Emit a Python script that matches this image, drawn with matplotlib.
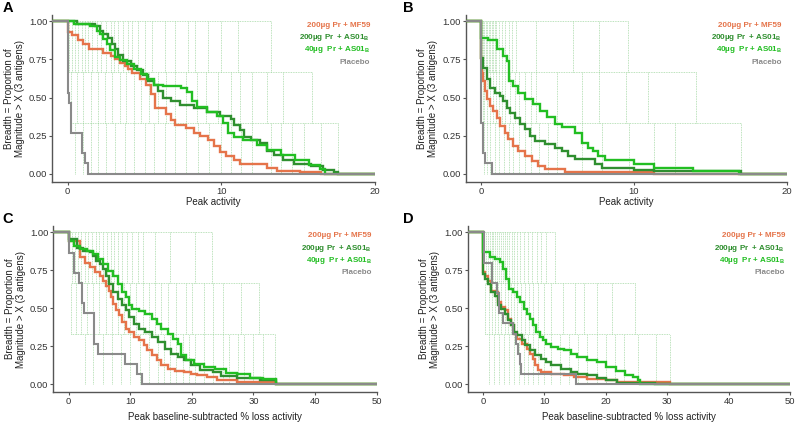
import matplotlib
matplotlib.use("Agg")
import matplotlib.pyplot as plt

# Шрифт похожий на Arial
plt.rcParams['font.family'] = ['Liberation Sans', 'DejaVu Sans']
plt.rcParams['mathtext.fontset'] = 'custom'
plt.rcParams['mathtext.rm'] = 'Liberation Sans'
plt.rcParams['mathtext.bf'] = 'Liberation Sans:bold'

ORANGE = '#E5744A'
DKGREEN = '#2F8F2F'
GREEN = '#22BE22'
GREY = '#8A8A8A'
FAINT = '#8fcf8f'

GROUPS = ['200µg Pr + MF59', '200µg Pr  + AS01$_\\mathbf{B}$',
          '40µg  Pr + AS01$_\\mathbf{B}$', 'Placebo']
COLORS = [ORANGE, DKGREEN, GREEN, GREY]

# ---------- Panel A: step points (x where the curve drops, y after drop)
A_MF59_X = [0.0, 0.3, 0.7, 1.0, 1.4, 2.3, 2.8, 3.1, 3.4, 3.7, 3.9, 4.2, 4.7, 5.1, 5.4, 5.7,
            6.4, 6.7, 7.0, 7.7, 8.2, 8.6, 9.1, 9.5, 9.9, 10.3, 10.8, 11.2, 13.0, 13.6, 15.1, 16.5]
A_MF59_Y = [0.93, 0.91, 0.88, 0.85, 0.82, 0.79, 0.77, 0.75, 0.73, 0.71, 0.69, 0.66, 0.62, 0.58, 0.52, 0.43,
            0.39, 0.35, 0.32, 0.30, 0.27, 0.245, 0.22, 0.18, 0.14, 0.115, 0.09, 0.06, 0.04, 0.02, 0.01, 0.0]
A_AS200_X = [0.6, 1.8, 2.1, 2.3, 2.65, 2.9, 3.1, 3.3, 3.6, 4.1, 4.5, 4.9, 5.25, 5.6, 5.9, 6.2, 6.7,
             7.3, 8.2, 9.05, 9.9, 10.6, 10.8, 11.2, 11.5, 11.9, 12.5, 12.95, 13.4, 14.0, 14.7, 15.8,
             16.6, 17.3, 17.6]
A_AS200_Y = [0.985, 0.97, 0.94, 0.92, 0.89, 0.85, 0.82, 0.78, 0.74, 0.71, 0.68, 0.645, 0.61, 0.58, 0.54,
             0.50, 0.48, 0.45, 0.43, 0.405, 0.38, 0.36, 0.32, 0.285, 0.24, 0.22, 0.20, 0.15, 0.12, 0.09,
             0.065, 0.05, 0.025, 0.01, 0.0]
A_AS40_X = [0.4, 1.45, 1.9, 2.1, 2.3, 2.55, 2.75, 3.1, 3.4, 3.85, 4.3, 4.8, 5.15, 5.6, 6.2, 7.4,
            7.75, 8.1, 8.4, 9.05, 9.7, 10.1, 10.45, 10.8, 11.4, 12.3, 13.0, 13.9, 14.8, 15.7, 16.4, 16.75]
A_AS40_Y = [0.985, 0.97, 0.94, 0.92, 0.886, 0.85, 0.81, 0.766, 0.744, 0.72, 0.69, 0.656, 0.62, 0.58,
            0.573, 0.565, 0.536, 0.48, 0.44, 0.405, 0.38, 0.33, 0.27, 0.24, 0.22, 0.186, 0.153, 0.12,
            0.088, 0.055, 0.033, 0.0]
A_PLA_X = [0.0, 0.1, 0.2, 0.9, 1.1, 1.3]
A_PLA_Y = [0.533, 0.467, 0.267, 0.133, 0.067, 0.0]

# ---------- Panel B
B_MF59_X = [0.0, 0.04, 0.15, 0.26, 0.37, 0.59, 0.81, 1.03, 1.24, 1.57, 1.79, 2.11, 2.44, 2.88,
            3.32, 3.75, 4.19, 5.5, 11.3]
B_MF59_Y = [0.76, 0.663, 0.61, 0.54, 0.49, 0.444, 0.41, 0.368, 0.313, 0.27, 0.225, 0.181, 0.148,
            0.115, 0.083, 0.05, 0.028, 0.008, 0.0]
B_AS200_X = [0.0, 0.15, 0.37, 0.59, 0.92, 1.24, 1.46, 1.68, 1.9, 2.23, 2.55, 2.88, 3.21, 3.53,
             4.19, 4.84, 5.28, 5.71, 6.15, 7.46, 7.9, 10.0, 11.3, 17.0]
B_AS200_Y = [0.76, 0.696, 0.62, 0.565, 0.53, 0.51, 0.477, 0.433, 0.40, 0.368, 0.324, 0.29, 0.247,
             0.214, 0.192, 0.17, 0.148, 0.115, 0.094, 0.061, 0.039, 0.024, 0.014, 0.0]
B_AS40_X = [0.0, 0.48, 1.03, 1.46, 1.68, 1.85, 2.11, 2.44, 2.88, 3.42, 3.86, 4.3, 4.84, 5.28,
            6.15, 6.59, 7.02, 7.35, 7.68, 8.12, 10.0, 11.3, 13.9, 16.9]
B_AS40_Y = [0.89, 0.875, 0.816, 0.77, 0.74, 0.61, 0.575, 0.53, 0.49, 0.455, 0.41, 0.37, 0.324,
            0.306, 0.27, 0.20, 0.17, 0.148, 0.115, 0.09, 0.066, 0.035, 0.015, 0.0]
B_PLA_X = [0.0, 0.15, 0.25, 0.7]
B_PLA_Y = [0.333, 0.133, 0.067, 0.0]

# ---------- Panel C
C_MF59_X = [0.0, 1.9, 2.7, 3.5, 4.3, 5.05, 5.6, 6.1, 6.6, 6.9, 7.2, 7.7, 8.2, 8.7, 9.3, 9.8, 10.6,
            11.4, 12.2, 12.7, 13.5, 14.3, 15.05, 16.1, 17.2, 18.7, 19.8, 20.8, 22.4, 24.0, 27.4, 33.7]
C_MF59_Y = [0.945, 0.836, 0.80, 0.77, 0.737, 0.716, 0.683, 0.65, 0.617, 0.573, 0.53, 0.486, 0.453,
            0.41, 0.365, 0.344, 0.31, 0.289, 0.256, 0.223, 0.19, 0.158, 0.125, 0.103, 0.0875, 0.081,
            0.07, 0.059, 0.048, 0.026, 0.012, 0.0]
C_AS200_X = [0.0, 1.37, 2.4, 3.5, 4.0, 4.5, 5.05, 5.6, 6.1, 6.6, 7.2, 7.95, 8.7, 9.3, 9.8, 10.6,
             11.4, 12.4, 13.5, 14.5, 15.6, 16.6, 17.7, 18.7, 19.8, 21.4, 23.5, 24.7, 27.4, 31.0, 33.7]
C_AS200_Y = [0.956, 0.90, 0.88, 0.869, 0.847, 0.814, 0.79, 0.76, 0.716, 0.66, 0.606, 0.56, 0.52,
             0.486, 0.442, 0.398, 0.365, 0.344, 0.31, 0.278, 0.234, 0.20, 0.18, 0.158, 0.125, 0.092,
             0.081, 0.055, 0.044, 0.028, 0.0]
C_AS40_X = [0.0, 0.84, 1.9, 2.95, 4.0, 4.8, 5.6, 6.4, 7.2, 7.95, 8.7, 9.3, 9.8, 10.3, 11.4, 12.4,
            13.5, 14.3, 15.05, 16.1, 16.9, 17.7, 18.2, 19.0, 20.3, 21.9, 23.7, 25.5, 27.4, 29.5, 31.6,
            33.7]
C_AS40_Y = [0.945, 0.912, 0.89, 0.88, 0.858, 0.825, 0.792, 0.748, 0.716, 0.66, 0.606, 0.573, 0.519,
            0.497, 0.48, 0.464, 0.431, 0.398, 0.365, 0.333, 0.30, 0.267, 0.19, 0.158, 0.136, 0.114,
            0.103, 0.077, 0.066, 0.044, 0.033, 0.0]
C_PLA_X = [0.0, 0.9, 1.7, 2.1, 2.5, 4.1, 4.7, 9.2, 11.1, 11.9]
C_PLA_Y = [0.867, 0.733, 0.667, 0.533, 0.467, 0.267, 0.20, 0.133, 0.067, 0.0]

# ---------- Panel D
D_MF59_X = [0.0, 0.32, 0.84, 1.37, 1.9, 2.4, 2.95, 3.5, 4.0, 4.5, 5.05, 5.6, 6.4, 7.2, 7.7, 8.2,
            8.5, 9.0, 9.5, 11.1, 13.2, 14.8, 16.9, 18.5, 20.05, 21.8, 30.5]
D_MF59_Y = [0.737, 0.716, 0.683, 0.617, 0.606, 0.54, 0.508, 0.486, 0.431, 0.387, 0.333, 0.30, 0.267,
            0.234, 0.20, 0.168, 0.125, 0.092, 0.081, 0.07, 0.059, 0.048, 0.037, 0.033, 0.026, 0.015,
            0.0]
D_AS200_X = [0.0, 0.32, 0.84, 1.37, 1.9, 2.4, 2.95, 3.5, 4.0, 4.5, 5.05, 5.6, 6.4, 6.9, 7.7, 8.5,
             9.5, 10.3, 11.1, 12.7, 14.3, 15.3, 16.9, 18.5, 20.05, 21.8, 28.0]
D_AS200_Y = [0.727, 0.694, 0.66, 0.606, 0.584, 0.519, 0.497, 0.464, 0.42, 0.387, 0.344, 0.322,
             0.289, 0.256, 0.223, 0.19, 0.168, 0.147, 0.125, 0.103, 0.081, 0.07, 0.059, 0.042, 0.026,
             0.01, 0.0]
D_AS40_X = [0.0, 1.1, 1.9, 2.7, 3.2, 3.7, 4.3, 4.8, 5.6, 6.1, 6.6, 7.2, 7.7, 8.2, 8.7, 9.3, 9.8,
            10.3, 11.1, 12.2, 13.2, 14.3, 15.3, 16.9, 18.5, 20.0, 21.6, 23.2, 24.5, 25.3, 25.5]
D_AS40_Y = [0.869, 0.836, 0.825, 0.803, 0.76, 0.694, 0.628, 0.606, 0.573, 0.54, 0.497, 0.464, 0.431,
            0.387, 0.344, 0.31, 0.289, 0.267, 0.245, 0.234, 0.223, 0.20, 0.18, 0.158, 0.147, 0.115,
            0.09, 0.06, 0.048, 0.026, 0.0]
D_PLA_X = [0.1, 1.4, 2.2, 2.6, 3.2, 4.8, 5.4, 5.7, 6.0, 6.2, 15.1]
D_PLA_Y = [0.80, 0.667, 0.60, 0.467, 0.40, 0.333, 0.267, 0.20, 0.133, 0.067, 0.0]

# ---------- faint individual-level lines (x of drops at each antigen level)
A_LV1 = [0.1, 0.3, 0.5, 0.7, 0.9, 1.1, 1.3, 1.6, 1.9, 2.2, 2.5, 2.8, 3.0, 3.3, 3.6, 3.9, 4.2, 4.6,
         5.0, 5.5, 6.3, 7.0, 7.8, 8.3, 9.1, 10.0, 11.1, 13.2]
A_LV2 = [0.2, 0.6, 1.0, 1.5, 2.0, 2.4, 2.9, 3.4, 3.8, 4.3, 4.8, 5.3, 5.9, 6.4, 7.0, 7.7, 8.4, 9.0,
         9.8, 10.6, 11.2, 12.0, 13.0, 14.0, 15.9]
A_LV3 = [0.5, 1.0, 1.5, 2.0, 2.5, 3.1, 3.7, 4.3, 5.0, 5.6, 6.3, 7.0, 7.7, 8.5, 9.2, 10.0, 10.6,
         11.3, 12.0, 13.2, 13.9, 14.6, 15.4, 16.5, 17.6]
B_LV1 = [0.05, 0.1, 0.2, 0.3, 0.4, 0.5, 0.6, 0.7, 0.8, 0.9, 1.0, 1.2, 1.4, 1.6, 1.8, 2.0, 2.3, 3.6,
         6.0, 7.7, 9.6]
B_LV2 = [0.1, 0.2, 0.4, 0.6, 0.8, 1.0, 1.2, 1.4, 1.6, 1.9, 2.2, 2.5, 2.9, 3.3, 3.6, 5.0, 6.6, 7.7,
         9.5, 10.9, 14.05]
B_LV3 = [0.2, 0.4, 0.6, 0.9, 1.2, 1.5, 1.8, 2.1, 2.5, 2.9, 3.3, 3.8, 4.4, 5.0, 6.6, 7.9, 9.7, 11.3,
         12.7, 17.0]
C_LV1 = [0.5, 1.0, 1.5, 2.0, 2.6, 3.2, 3.8, 4.4, 5.0, 5.6, 6.2, 6.8, 7.4, 8.0, 8.7, 9.5, 10.3, 11.2,
         12.0, 14.0, 16.5, 20.5, 23.2]
C_LV2 = [0.3, 1.2, 2.0, 3.0, 4.0, 5.0, 6.0, 7.0, 8.0, 9.0, 10.0, 11.0, 12.0, 13.0, 14.0, 15.0, 16.2,
         17.5, 19.0, 20.0, 22.0, 23.5, 25.0, 28.0, 30.9]
C_LV3 = [2.6, 4.0, 5.5, 7.0, 8.5, 10.0, 11.5, 13.0, 14.5, 15.5, 16.5, 17.5, 18.5, 19.5, 20.5, 22.0,
         23.5, 25.0, 26.0, 27.5, 28.5, 30.0, 31.5, 33.5]
D_LV1 = [0.5, 0.8, 1.1, 1.4, 1.7, 2.0, 2.3, 2.6, 2.9, 3.2, 3.5, 3.9, 4.3, 4.7, 5.1, 5.6, 6.1, 6.7,
         7.3, 8.0, 8.8, 9.5, 10.2, 11.7]
D_LV2 = [0.3, 0.9, 1.5, 2.0, 2.5, 3.0, 3.5, 4.0, 4.5, 5.0, 5.6, 6.2, 6.8, 7.5, 8.2, 9.0, 10.0, 11.0,
         13.0, 15.0, 16.5, 18.5, 21.0, 24.8]
D_LV3 = [1.0, 1.8, 2.6, 3.4, 4.2, 5.0, 5.8, 6.6, 7.4, 8.2, 9.0, 10.0, 11.0, 12.5, 14.0, 15.5, 17.0,
         18.5, 20.0, 21.5, 23.0, 25.3, 28.2, 30.5]

LEVELS = [1.0, 2 / 3, 1 / 3, 0.0]

panels = [
    dict(letter='A', rect=[0.0658, 0.5715, 0.406, 0.393], xmax=20, xticks=[0, 10, 20],
         xlabel='Peak activity', pad=0.8,
         curves=[(A_MF59_X, A_MF59_Y), (A_AS200_X, A_AS200_Y), (A_AS40_X, A_AS40_Y), (A_PLA_X, A_PLA_Y)],
         lv=[A_LV1, A_LV2, A_LV3]),
    dict(letter='B', rect=[0.5858, 0.5715, 0.4037, 0.393], xmax=20, xticks=[0, 10, 20],
         xlabel='Peak activity', pad=0.8,
         curves=[(B_MF59_X, B_MF59_Y), (B_AS200_X, B_AS200_Y), (B_AS40_X, B_AS40_Y), (B_PLA_X, B_PLA_Y)],
         lv=[B_LV1, B_LV2, B_LV3]),
    dict(letter='C', rect=[0.067, 0.0748, 0.4068, 0.3922], xmax=50, xticks=[0, 10, 20, 30, 40, 50],
         xlabel='Peak baseline-subtracted % loss activity', pad=4.5,
         curves=[(C_MF59_X, C_MF59_Y), (C_AS200_X, C_AS200_Y), (C_AS40_X, C_AS40_Y), (C_PLA_X, C_PLA_Y)],
         lv=[C_LV1, C_LV2, C_LV3]),
    dict(letter='D', rect=[0.5883, 0.0748, 0.4054, 0.3922], xmax=50, xticks=[0, 10, 20, 30, 40, 50],
         xlabel='Peak baseline-subtracted % loss activity', pad=4.5,
         curves=[(D_MF59_X, D_MF59_Y), (D_AS200_X, D_AS200_Y), (D_AS40_X, D_AS40_Y), (D_PLA_X, D_PLA_Y)],
         lv=[D_LV1, D_LV2, D_LV3]),
]

fig = plt.figure(figsize=(7.95, 4.24), dpi=100)

for p in panels:
    ax = fig.add_axes(p['rect'])
    xmin = -p['xmax'] * 0.05
    ax.set_xlim(xmin, p['xmax'])
    ax.set_ylim(-0.053, 1.042)

    # faint dotted individual lines
    dot = dict(color=FAINT, lw=0.6, linestyle=(0, (1, 1)), alpha=0.8, zorder=1)
    for i, xs in enumerate(p['lv']):
        ax.vlines(xs, LEVELS[i + 1], LEVELS[i], **dot)
    ax.hlines(1.0, 0, max(p['lv'][0]), **dot)
    ax.hlines(2 / 3, min(p['lv'][0]), max(p['lv'][1]), **dot)
    ax.hlines(1 / 3, min(p['lv'][1]), max(p['lv'][2]), **dot)

    # group mean curves: placebo first, then vaccine groups
    for k in [3, 0, 1, 2]:
        xs, ys = p['curves'][k]
        xx = [xmin] + list(xs) + [p['xmax']]
        yy = [1.0] + list(ys) + [0.0]
        ax.step(xx, yy, where='post', color=COLORS[k], lw=1.7 if k != 3 else 1.5,
                zorder=3 + k, solid_joinstyle='miter')

    for side in ['top', 'right']:
        ax.spines[side].set_visible(False)
    for side in ['left', 'bottom']:
        ax.spines[side].set_color('#555555')
        ax.spines[side].set_linewidth(1.0)
    ax.set_xticks(p['xticks'])
    ax.set_yticks([0, 0.25, 0.5, 0.75, 1.0])
    ax.set_yticklabels(['0.00', '0.25', '0.50', '0.75', '1.00'])
    ax.tick_params(labelsize=6.8, colors='#555555', labelcolor='#333333', length=2, width=0.8, pad=1.5)
    ax.set_xlabel(p['xlabel'], fontsize=7, color='#222222', labelpad=p['pad'])
    ax.set_ylabel('Breadth = Proportion of\nMagnitude > X (3 antigens)', fontsize=7,
                  color='#222222', labelpad=3, linespacing=1.1)

    for k, (name, col) in enumerate(zip(GROUPS, COLORS)):
        ax.text(0.985, 0.94 - k * 0.074, name, transform=ax.transAxes, ha='right', va='center',
                fontsize=5.8, fontweight='bold', color=col)

    y0 = p['rect'][1] + p['rect'][3]
    fig.text(0.003 if p['letter'] in 'AC' else 0.507, y0 + 0.033, p['letter'],
             fontsize=10.5, fontweight='bold', va='top', ha='left')

fig.savefig('out.png', dpi=100)
